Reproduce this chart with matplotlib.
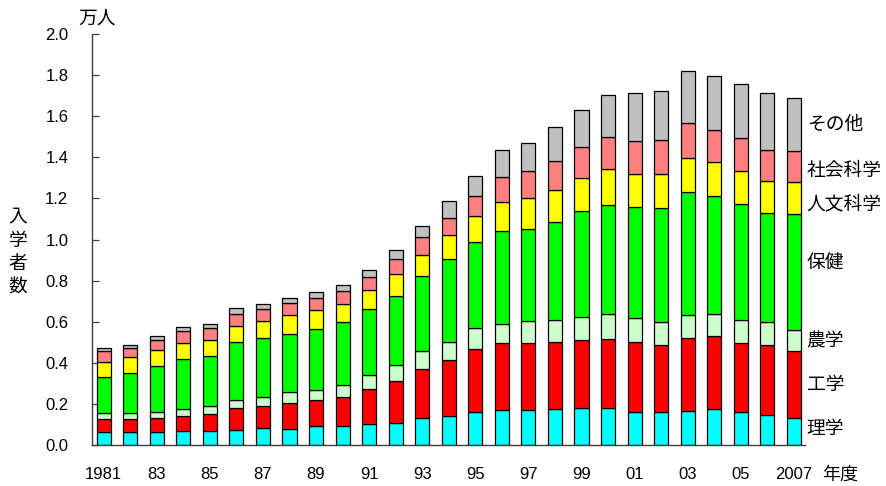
import matplotlib
matplotlib.use("Agg")
import matplotlib.pyplot as plt
import numpy as np

plt.rcParams['font.family'] = ['Noto Sans CJK JP', 'DejaVu Sans']

years = list(range(1981, 2008))
tick_labels = ["1981", "83", "85", "87", "89", "91", "93", "95", "97", "99",
               "01", "03", "05", "2007"]

# 入学者数（万人） by field, bottom to top
rigaku = [0.062, 0.062, 0.062, 0.066, 0.066, 0.071, 0.081, 0.078, 0.091, 0.091,
          0.100, 0.107, 0.133, 0.141, 0.160, 0.168, 0.168, 0.173, 0.178, 0.178,
          0.160, 0.160, 0.163, 0.176, 0.160, 0.144, 0.131]
kogaku = [0.063, 0.063, 0.068, 0.075, 0.087, 0.107, 0.108, 0.124, 0.126, 0.141,
          0.172, 0.202, 0.237, 0.272, 0.309, 0.326, 0.326, 0.326, 0.332, 0.340,
          0.341, 0.329, 0.360, 0.353, 0.337, 0.341, 0.325]
nogaku = [0.029, 0.029, 0.029, 0.032, 0.035, 0.040, 0.043, 0.054, 0.051, 0.058,
          0.069, 0.078, 0.088, 0.090, 0.102, 0.097, 0.111, 0.111, 0.115, 0.121,
          0.116, 0.111, 0.109, 0.107, 0.110, 0.115, 0.106]
hoken = [0.175, 0.196, 0.224, 0.246, 0.243, 0.283, 0.291, 0.286, 0.298, 0.310,
         0.319, 0.340, 0.362, 0.403, 0.418, 0.451, 0.447, 0.476, 0.516, 0.529,
         0.540, 0.555, 0.600, 0.574, 0.566, 0.528, 0.563]
jinbun = [0.077, 0.076, 0.077, 0.078, 0.082, 0.080, 0.081, 0.090, 0.091, 0.088,
          0.096, 0.106, 0.106, 0.117, 0.126, 0.141, 0.150, 0.155, 0.158, 0.173,
          0.163, 0.162, 0.163, 0.169, 0.160, 0.157, 0.155]
shakai = [0.049, 0.045, 0.053, 0.056, 0.054, 0.058, 0.056, 0.057, 0.057, 0.063,
          0.061, 0.073, 0.084, 0.084, 0.097, 0.122, 0.131, 0.141, 0.152, 0.156,
          0.157, 0.167, 0.173, 0.155, 0.161, 0.151, 0.152]
sonota = [0.019, 0.016, 0.018, 0.021, 0.020, 0.026, 0.026, 0.026, 0.032, 0.029,
          0.033, 0.044, 0.057, 0.079, 0.097, 0.130, 0.136, 0.167, 0.180, 0.207,
          0.235, 0.239, 0.252, 0.261, 0.263, 0.276, 0.259]

field_names = ["理学", "工学", "農学", "保健", "人文科学", "社会科学", "その他"]
field_values = [rigaku, kogaku, nogaku, hoken, jinbun, shakai, sonota]
field_colors = ["#00FFFF", "#FF0000", "#CCFFCC", "#00FF00", "#FFFF00", "#FF8080", "#C0C0C0"]

fig = plt.figure(figsize=(8.86, 4.86), dpi=100)
ax = fig.add_axes([0.1038, 0.0844, 0.8048, 0.8456])

x = np.arange(len(years))
bottom = np.zeros(len(years))
for vals, col in zip(field_values, field_colors):
    v = np.array(vals)
    ax.bar(x, v, width=0.53, bottom=bottom, color=col,
           edgecolor="black", linewidth=0.9, zorder=2)
    bottom += v

ax.set_xlim(-0.44, 26.42)
ax.set_ylim(0, 2.0)
ax.set_yticks(np.arange(0, 2.01, 0.2))
ax.set_yticklabels([f"{t:.1f}" for t in np.arange(0, 2.01, 0.2)])
ax.set_xticks(x[::2])
ax.set_xticklabels(tick_labels)

for s in ["top", "right"]:
    ax.spines[s].set_visible(False)
for s in ["left", "bottom"]:
    ax.spines[s].set_color("#404040")
    ax.spines[s].set_linewidth(1.0)

ax.tick_params(axis="y", direction="in", length=5, width=0.9, color="#404040",
               pad=17, labelsize=12)
ax.tick_params(axis="x", length=0, pad=16, labelsize=12)
for lbl in ax.get_xticklabels() + ax.get_yticklabels():
    lbl.set_family(["Liberation Sans", "DejaVu Sans"])

# labels for each field, next to the last bar
last = np.array([v[-1] for v in field_values])
tops = np.cumsum(last)
mids = tops - last / 2
label_y = list(mids)
label_y[0] += 0.014       # 理学
label_y[3] += 0.045       # 保健
label_y[4] -= 0.027       # 人文科学
label_y[5] -= 0.02        # 社会科学
for name, yv in zip(field_names, label_y):
    ax.text(26.48, yv, name, ha="left", va="center", fontsize=13.5, clip_on=False)

fig.text(840 / 886, 1 - 475 / 486, "年度", ha="center", va="center", fontsize=13)
fig.text(97.5 / 886, 1 - 18 / 486, "万人", ha="center", va="center", fontsize=13.5)
for i, ch in enumerate("入学者数"):
    fig.text(18 / 886, 1 - (217 + 23 * i) / 486, ch, ha="center", va="center",
             fontsize=13.5)

fig.savefig("out.png", dpi=100)
